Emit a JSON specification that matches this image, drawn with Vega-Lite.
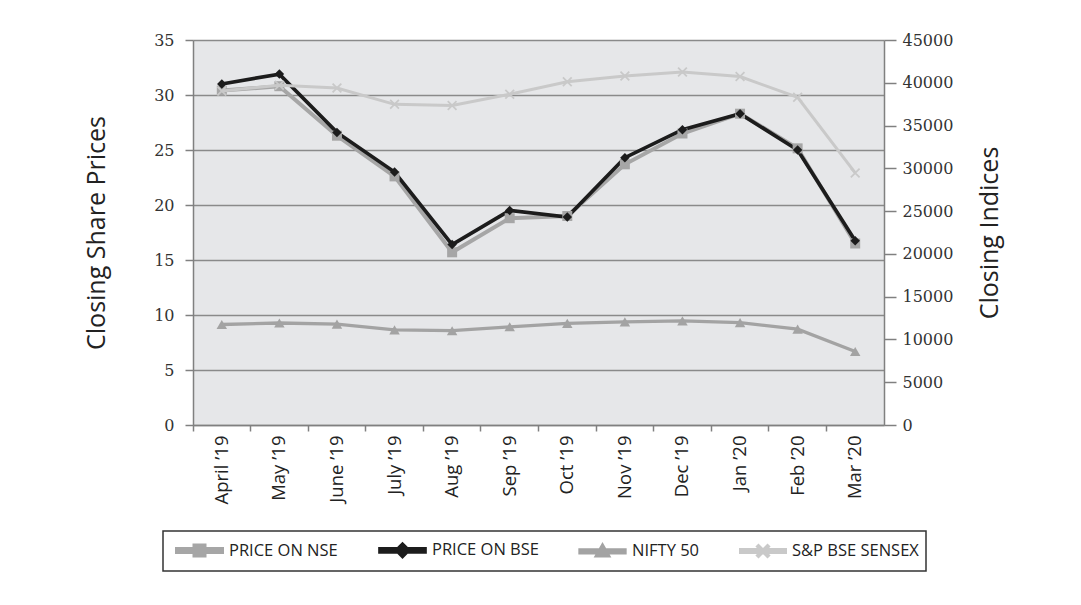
{
  "$schema": "https://vega.github.io/schema/vega-lite/v6.json",
  "width": 691,
  "height": 385,
  "padding": {"left": 84, "top": 32, "right": 5, "bottom": 5},
  "background": "white",
  "config": {
    "view": {"fill": "#e6e7e9", "stroke": null},
    "axis": {"labelColor": "#333333", "titleColor": "#222222", "domainColor": "#808080", "tickColor": "#808080", "titleFontWeight": "normal"}
  },
  "data": {
    "values": [
      {"month": "April ’19", "series": "PRICE ON NSE", "group": "price", "value": 30.4},
      {"month": "May ’19", "series": "PRICE ON NSE", "group": "price", "value": 30.8},
      {"month": "June ’19", "series": "PRICE ON NSE", "group": "price", "value": 26.3},
      {"month": "July ’19", "series": "PRICE ON NSE", "group": "price", "value": 22.6},
      {"month": "Aug ’19", "series": "PRICE ON NSE", "group": "price", "value": 15.7},
      {"month": "Sep ’19", "series": "PRICE ON NSE", "group": "price", "value": 18.8},
      {"month": "Oct ’19", "series": "PRICE ON NSE", "group": "price", "value": 19.0},
      {"month": "Nov ’19", "series": "PRICE ON NSE", "group": "price", "value": 23.7},
      {"month": "Dec ’19", "series": "PRICE ON NSE", "group": "price", "value": 26.5},
      {"month": "Jan ’20", "series": "PRICE ON NSE", "group": "price", "value": 28.3},
      {"month": "Feb ’20", "series": "PRICE ON NSE", "group": "price", "value": 25.15},
      {"month": "Mar ’20", "series": "PRICE ON NSE", "group": "price", "value": 16.5},
      {"month": "April ’19", "series": "PRICE ON BSE", "group": "price", "value": 31.0},
      {"month": "May ’19", "series": "PRICE ON BSE", "group": "price", "value": 31.9},
      {"month": "June ’19", "series": "PRICE ON BSE", "group": "price", "value": 26.6},
      {"month": "July ’19", "series": "PRICE ON BSE", "group": "price", "value": 23.0},
      {"month": "Aug ’19", "series": "PRICE ON BSE", "group": "price", "value": 16.4},
      {"month": "Sep ’19", "series": "PRICE ON BSE", "group": "price", "value": 19.5},
      {"month": "Oct ’19", "series": "PRICE ON BSE", "group": "price", "value": 18.9},
      {"month": "Nov ’19", "series": "PRICE ON BSE", "group": "price", "value": 24.3},
      {"month": "Dec ’19", "series": "PRICE ON BSE", "group": "price", "value": 26.85},
      {"month": "Jan ’20", "series": "PRICE ON BSE", "group": "price", "value": 28.3},
      {"month": "Feb ’20", "series": "PRICE ON BSE", "group": "price", "value": 25.0},
      {"month": "Mar ’20", "series": "PRICE ON BSE", "group": "price", "value": 16.75},
      {"month": "April ’19", "series": "NIFTY 50", "group": "index", "value": 11748},
      {"month": "May ’19", "series": "NIFTY 50", "group": "index", "value": 11923},
      {"month": "June ’19", "series": "NIFTY 50", "group": "index", "value": 11789},
      {"month": "July ’19", "series": "NIFTY 50", "group": "index", "value": 11118},
      {"month": "Aug ’19", "series": "NIFTY 50", "group": "index", "value": 11023},
      {"month": "Sep ’19", "series": "NIFTY 50", "group": "index", "value": 11474},
      {"month": "Oct ’19", "series": "NIFTY 50", "group": "index", "value": 11877},
      {"month": "Nov ’19", "series": "NIFTY 50", "group": "index", "value": 12056},
      {"month": "Dec ’19", "series": "NIFTY 50", "group": "index", "value": 12168},
      {"month": "Jan ’20", "series": "NIFTY 50", "group": "index", "value": 11962},
      {"month": "Feb ’20", "series": "NIFTY 50", "group": "index", "value": 11202},
      {"month": "Mar ’20", "series": "NIFTY 50", "group": "index", "value": 8598},
      {"month": "April ’19", "series": "S&P BSE SENSEX", "group": "index", "value": 39032},
      {"month": "May ’19", "series": "S&P BSE SENSEX", "group": "index", "value": 39714},
      {"month": "June ’19", "series": "S&P BSE SENSEX", "group": "index", "value": 39395},
      {"month": "July ’19", "series": "S&P BSE SENSEX", "group": "index", "value": 37481},
      {"month": "Aug ’19", "series": "S&P BSE SENSEX", "group": "index", "value": 37333},
      {"month": "Sep ’19", "series": "S&P BSE SENSEX", "group": "index", "value": 38667},
      {"month": "Oct ’19", "series": "S&P BSE SENSEX", "group": "index", "value": 40129},
      {"month": "Nov ’19", "series": "S&P BSE SENSEX", "group": "index", "value": 40794},
      {"month": "Dec ’19", "series": "S&P BSE SENSEX", "group": "index", "value": 41254},
      {"month": "Jan ’20", "series": "S&P BSE SENSEX", "group": "index", "value": 40723},
      {"month": "Feb ’20", "series": "S&P BSE SENSEX", "group": "index", "value": 38297},
      {"month": "Mar ’20", "series": "S&P BSE SENSEX", "group": "index", "value": 29468}
    ]
  },
  "encoding": {
    "x": {
      "field": "month", "type": "nominal",
      "sort": ["April ’19", "May ’19", "June ’19", "July ’19", "Aug ’19", "Sep ’19", "Oct ’19", "Nov ’19", "Dec ’19", "Jan ’20", "Feb ’20", "Mar ’20"],
      "scale": {"type": "band", "paddingInner": 0, "paddingOuter": 0},
      "axis": {"title": null, "labelAngle": -90, "labelFont": "Open Sans", "labelFontSize": 18.5, "labelColor": "#222222", "bandPosition": 0, "tickSize": 6, "labelPadding": 4, "domainColor": "#808080", "domainWidth": 1.5, "tickWidth": 1.5, "grid": false}
    },
    "color": {
      "field": "series", "type": "nominal",
      "scale": {"domain": ["PRICE ON NSE", "PRICE ON BSE", "NIFTY 50", "S&P BSE SENSEX"], "range": ["#a6a6a6", "#1c1c1c", "#a3a3a3", "#c9c9c9"]},
      "legend": {
        "orient": "none", "legendX": -30, "legendY": 491, "direction": "horizontal", "title": null,
        "strokeColor": "#333333", "padding": 7, "symbolSize": 400, "labelOffset": 35, "columnPadding": 34,
        "labelFont": "Open Sans", "labelFontSize": 16.5, "labelColor": "#222222",
        "encode": {
          "legend": {"update": {"strokeWidth": {"value": 1.5}}},
          "symbols": {
            "update": {
              "shape": {"signal": "datum.value === 'PRICE ON NSE' ? 'M-0.5,-0.15H4V0.15H-0.5Z M1.25,-0.5H2.25V0.5H1.25Z' : datum.value === 'PRICE ON BSE' ? 'M-0.5,-0.15H4V0.15H-0.5Z M1.75,-0.6L2.35,0L1.75,0.6L1.15,0Z' : datum.value === 'NIFTY 50' ? 'M-0.5,-0.15H4V0.15H-0.5Z M1.75,-0.6L2.35,0.45H1.15Z' : 'M-0.5,-0.15H4V0.15H-0.5Z M1.2,-0.45L1.3,-0.55L2.3,0.45L2.2,0.55Z M2.2,-0.55L2.3,-0.45L1.3,0.55L1.2,0.45Z'"},
              "stroke": {"value": "transparent"},
              "strokeWidth": {"value": 0},
              "opacity": {"value": 1}
            }
          }
        }
      }
    }
  },
  "layer": [
    {
      "transform": [{"filter": "datum.group === 'price'"}],
      "encoding": {
        "y": {
          "field": "value", "type": "quantitative",
          "scale": {"domain": [0, 35], "nice": false, "zero": true},
          "axis": {"orient": "left", "title": "Closing Share Prices", "titleFont": "Open Sans", "titleFontSize": 25, "titlePadding": 44, "labelFont": "DejaVu Serif", "labelFontSize": 16, "values": [0, 5, 10, 15, 20, 25, 30, 35], "tickSize": 8, "labelPadding": 11, "grid": true, "gridColor": "#8a8a8a", "gridWidth": 1.5, "domainWidth": 1.5, "tickWidth": 1.5}
        }
      },
      "layer": [
        {"mark": {"type": "line", "strokeJoin": "miter"}, "encoding": {"strokeWidth": {"field": "series", "type": "nominal", "scale": {"domain": ["PRICE ON NSE", "PRICE ON BSE", "NIFTY 50", "S&P BSE SENSEX"], "range": [4, 3, 3, 3]}, "legend": null}}},
        {"transform": [{"filter": "datum.series === 'PRICE ON NSE'"}], "mark": {"type": "point", "filled": true, "size": 100, "opacity": 1, "shape": "square"}},
        {"transform": [{"filter": "datum.series === 'PRICE ON BSE'"}], "mark": {"type": "point", "filled": true, "size": 90, "opacity": 1, "shape": "diamond"}}
      ]
    },
    {
      "transform": [{"filter": "datum.group === 'index'"}],
      "encoding": {
        "y": {
          "field": "value", "type": "quantitative",
          "scale": {"domain": [0, 45000], "nice": false, "zero": true},
          "axis": {"orient": "right", "title": "Closing Indices", "titleFont": "Open Sans", "titleFontSize": 25, "titleAngle": 270, "titlePadding": 50, "labelFont": "DejaVu Serif", "labelFontSize": 16, "format": "d", "values": [0, 5000, 10000, 15000, 20000, 25000, 30000, 35000, 40000, 45000], "tickSize": 12, "labelPadding": 6, "grid": false, "domainWidth": 1.5, "tickWidth": 1.5}
        }
      },
      "layer": [
        {"mark": {"type": "line", "strokeJoin": "miter"}, "encoding": {"strokeWidth": {"field": "series", "type": "nominal", "scale": {"domain": ["PRICE ON NSE", "PRICE ON BSE", "NIFTY 50", "S&P BSE SENSEX"], "range": [4, 3, 3, 3]}, "legend": null}}},
        {"transform": [{"filter": "datum.series === 'NIFTY 50'"}], "mark": {"type": "point", "filled": true, "size": 110, "opacity": 1, "shape": "triangle-up"}},
        {"transform": [{"filter": "datum.series === 'S&P BSE SENSEX'"}], "mark": {"type": "point", "filled": true, "size": 100, "opacity": 1, "shape": "M-1,-0.75L-0.75,-1L1,0.75L0.75,1Z M0.75,-1L1,-0.75L-0.75,1L-1,0.75Z"}}
      ]
    }
  ],
  "resolve": {"scale": {"y": "independent"}}
}
